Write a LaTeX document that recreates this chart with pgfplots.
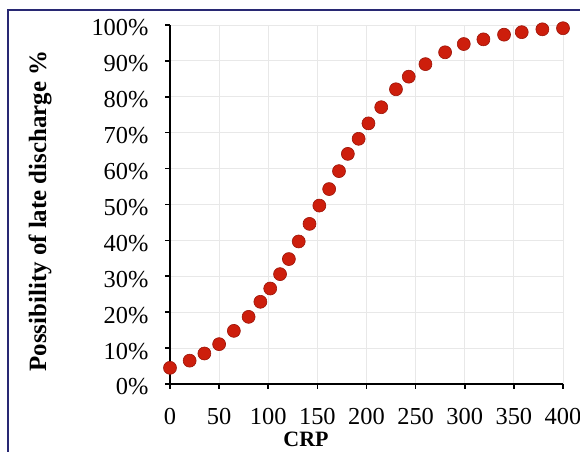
\documentclass[border=0pt]{standalone}
\usepackage{pgfplots}
\pgfplotsset{compat=1.18}
\usepackage{fontspec}
\setmainfont{Liberation Serif}
\definecolor{dotfill}{RGB}{205,30,12}
\definecolor{dotdraw}{RGB}{155,20,8}
\definecolor{frameblue}{RGB}{40,40,115}
\definecolor{gridgray}{RGB}{232,232,232}
\begin{document}
\begin{tikzpicture}
\useasboundingbox (0,0) rectangle (580bp,452bp);
\draw[frameblue, line width=1.3bp] (8bp,-5bp) -- (8bp,442bp) -- (590bp,442bp);
\begin{axis}[
  at={(170bp,68bp)}, anchor=south west,
  scale only axis, width=393bp, height=359bp,
  xmin=0, xmax=400, ymin=0, ymax=100,
  axis x line*=bottom, axis y line*=left,
  axis line style={line width=1.6bp, black},
  xtick={0,50,...,400}, ytick={0,10,...,100},
  tick align=outside, major tick length=5bp,
  tick style={line width=1.6bp, black},
  grid=major, major grid style={gridgray, line width=0.8bp},
  /pgf/number format/assume math mode=true,
  yticklabel={\pgfmathprintnumber{\tick}\%},
  tick label style={font=\fontsize{24.5}{28}\selectfont},
  xticklabel style={anchor=base, yshift=-35bp},
  yticklabel style={anchor=east, xshift=-13bp, yshift=-3bp},
  clip=false,
]
\addplot[only marks, mark=*, mark size=6.5bp,
  mark options={fill=dotfill, draw=dotdraw, line width=0.6bp}]
coordinates {
(0,4.5) (20,6.5) (35,8.5) (50,11.1) (65,14.8) (80,18.7) (92,22.9)
(102,26.6) (112,30.6) (121,34.8) (131,39.7) (142,44.6) (152,49.7)
(162,54.3) (172,59.3) (181,64.1) (192,68.3) (202,72.6) (215,77.1)
(230,82.1) (243,85.6) (260,89.1) (280,92.4) (299,94.7) (319,96.0)
(340,97.3) (358,98.0) (379,98.8) (400,99.1)
};
\end{axis}
\node[rotate=90, anchor=center, font=\fontsize{25}{28}\selectfont\bfseries] at (40bp,241bp) {Possibility of late discharge \%};
\node[anchor=base, inner sep=0pt, font=\fontsize{22}{25}\selectfont\bfseries] at (306bp,5.5bp) {CRP};
\end{tikzpicture}
\end{document}
